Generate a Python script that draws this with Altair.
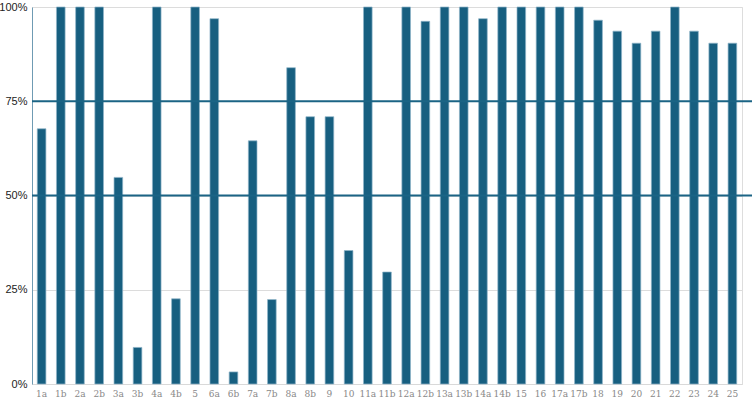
import altair as alt
import pandas as pd

categories = ["1a", "1b", "2a", "2b", "3a", "3b", "4a", "4b", "5", "6a", "6b", "7a", "7b",
              "8a", "8b", "9", "10", "11a", "11b", "12a", "12b", "13a", "13b", "14a", "14b",
              "15", "16", "17a", "17b", "18", "19", "20", "21", "22", "23", "24", "25"]
values = [0.677, 1.0, 1.0, 1.0, 0.548, 0.097, 1.0, 0.226, 1.0, 0.969, 0.032, 0.645, 0.224,
          0.839, 0.709, 0.709, 0.354, 1.0, 0.297, 1.0, 0.962, 1.0, 1.0, 0.969, 1.0,
          1.0, 1.0, 1.0, 1.0, 0.965, 0.936, 0.904, 0.936, 1.0, 0.936, 0.904, 0.904]
threshold_lines = [0.75, 0.5]

df = pd.DataFrame({"cat": categories, "val": values})
rules_df = pd.DataFrame({"y": threshold_lines})

bar_color = "#175f80"

bars = alt.Chart(df).mark_bar(
    color=bar_color, stroke="#8fb4c8", strokeWidth=0.7
).encode(
    x=alt.X("cat:N", sort=categories, title=None,
            scale=alt.Scale(paddingInner=0.55, paddingOuter=0.275),
            axis=alt.Axis(labelAngle=0, labelFontSize=9, labelColor="#888888",
                          labelFont="DejaVu Serif", ticks=False, labelPadding=5,
                          domainColor="#d9d9d9", domainWidth=1)),
    y=alt.Y("val:Q", title=None,
            scale=alt.Scale(domain=[0, 1], nice=False),
            axis=alt.Axis(format=".0%", values=[0, 0.25, 0.5, 0.75, 1.0],
                          labelFontSize=11, labelColor="#222222", labelFont="Liberation Sans",
                          ticks=False, labelPadding=5, gridColor="#dcdcdc", gridWidth=1,
                          domainColor="#6f9bb3", domainWidth=1))
)

rules = alt.Chart(rules_df).mark_rule(color="#1b6485", strokeWidth=2).encode(
    y="y:Q",
    x=alt.value(0),
    x2=alt.value(720),
)

chart = (bars + rules).properties(
    width=710, height=377,
    autosize=alt.AutoSizeParams(type="none"),
    padding={"left": 32, "top": 7, "right": 10, "bottom": 15},
).configure_view(stroke=None).configure(background="white")

chart.save("out.html", embed_options={"renderer": "svg", "actions": False})
